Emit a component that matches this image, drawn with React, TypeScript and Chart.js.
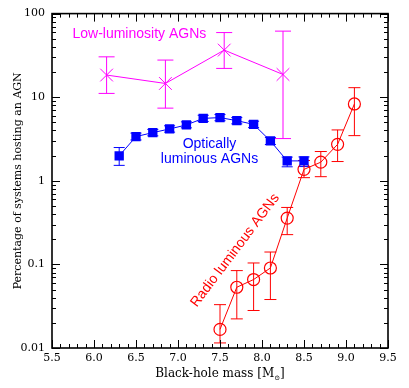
import React, { useEffect, useRef } from 'react';
import { Chart, registerables } from 'chart.js';
Chart.register(...registerables);

// Low-luminosity AGNs
const lowLumMass = [6.15, 6.85, 7.55, 8.25];
const lowLumPct = [18.4, 14.6, 36.6, 18.7];
const lowLumLo = [11.1, 7.4, 22.1, 3.2];
const lowLumHi = [30.4, 27.8, 59.3, 61.7];

// Optically luminous AGNs
const opticalMass = [6.3, 6.5, 6.7, 6.9, 7.1, 7.3, 7.5, 7.7, 7.9, 8.1, 8.3, 8.5];
const opticalPct = [1.99, 3.38, 3.77, 4.17, 4.66, 5.58, 5.7, 5.24, 4.73, 3.0, 1.73, 1.73];
const opticalLo = [1.53, 3.08, 3.45, 3.82, 4.3, 5.12, 5.23, 4.8, 4.33, 2.72, 1.47, 1.48];
const opticalHi = [2.5, 3.72, 4.12, 4.55, 5.07, 6.08, 6.2, 5.7, 5.16, 3.3, 1.92, 1.93];

// Radio luminous AGNs
const radioMass = [7.5, 7.7, 7.9, 8.1, 8.3, 8.5, 8.7, 8.9, 9.1];
const radioPct = [0.0167, 0.0533, 0.0659, 0.0906, 0.358, 1.37, 1.67, 2.73, 8.3];
const radioLo = [0.0115, 0.0223, 0.0281, 0.038, 0.227, 1.09, 1.12, 1.7, 3.47];
const radioHi = [0.033, 0.0843, 0.104, 0.1406, 0.48, 1.75, 2.24, 4.06, 13.0];

const yTickValues = [0.01, 0.1, 1, 10, 100];
const xMin = 5.5;
const xMax = 9.5;

const MAGENTA = '#ff00ff';
const BLUE = '#0000ff';
const RED = '#ff0000';
const AXIS_FONT = '"DejaVu Serif", serif';
const LABEL_FONT = '"Liberation Sans", Arial, sans-serif';

const errorSets = [
  { xs: lowLumMass, lo: lowLumLo, hi: lowLumHi, color: MAGENTA, cap: 8 },
  { xs: opticalMass, lo: opticalLo, hi: opticalHi, color: BLUE, cap: 5.5 },
  { xs: radioMass, lo: radioLo, hi: radioHi, color: RED, cap: 6 },
];

const errorBarPlugin = {
  id: 'errorBars',
  beforeDatasetsDraw(chart: any) {
    const { ctx, chartArea } = chart;
    const xs = chart.scales.x;
    const ys = chart.scales.y;
    ctx.save();
    ctx.beginPath();
    ctx.rect(chartArea.left, chartArea.top, chartArea.right - chartArea.left, chartArea.bottom - chartArea.top);
    ctx.clip();
    ctx.lineWidth = 1;
    errorSets.forEach((s) => {
      ctx.strokeStyle = s.color;
      s.xs.forEach((m, i) => {
        const px = xs.getPixelForValue(m);
        const pLo = ys.getPixelForValue(s.lo[i]);
        const pHi = ys.getPixelForValue(s.hi[i]);
        ctx.beginPath();
        ctx.moveTo(px, pLo);
        ctx.lineTo(px, pHi);
        ctx.moveTo(px - s.cap, pLo);
        ctx.lineTo(px + s.cap, pLo);
        ctx.moveTo(px - s.cap, pHi);
        ctx.lineTo(px + s.cap, pHi);
        ctx.stroke();
      });
    });
    ctx.restore();
  },
};

const framePlugin = {
  id: 'frame',
  afterDraw(chart: any) {
    const { ctx, chartArea } = chart;
    const { left, right, top, bottom } = chartArea;
    const xs = chart.scales.x;
    const ys = chart.scales.y;
    ctx.save();
    ctx.strokeStyle = '#000';
    ctx.lineWidth = 1;
    const major = 8;
    const minor = 4;
    // x ticks
    for (let k = 0; k <= Math.round((xMax - xMin) * 10); k++) {
      const v = xMin + k * 0.1;
      const px = Math.round(xs.getPixelForValue(v)) + 0.5;
      const len = k % 5 === 0 ? major : minor;
      ctx.beginPath();
      ctx.moveTo(px, bottom);
      ctx.lineTo(px, bottom - len);
      ctx.moveTo(px, top);
      ctx.lineTo(px, top + len);
      ctx.stroke();
    }
    // y ticks
    for (let d = -2; d <= 2; d++) {
      for (let m = 1; m <= 9; m++) {
        if (d === 2 && m > 1) break;
        const v = m * Math.pow(10, d);
        const py = Math.round(ys.getPixelForValue(v)) + 0.5;
        const len = m === 1 ? major : minor;
        ctx.beginPath();
        ctx.moveTo(left, py);
        ctx.lineTo(left + len, py);
        ctx.moveTo(right, py);
        ctx.lineTo(right - len, py);
        ctx.stroke();
      }
    }
    ctx.lineWidth = 1.6;
    ctx.strokeRect(left, top, right - left, bottom - top);

    // axis titles
    ctx.fillStyle = '#000';
    ctx.textBaseline = 'alphabetic';
    const t1 = 'Black-hole mass [M';
    const t2 = '\u2299';
    const t3 = ']';
    ctx.font = `12px ${AXIS_FONT}`;
    const w1 = ctx.measureText(t1).width;
    const w3 = ctx.measureText(t3).width;
    ctx.font = `7px ${AXIS_FONT}`;
    const w2 = ctx.measureText(t2).width;
    const total = w1 + w2 + w3;
    const cx = (left + right) / 2;
    const baseY = 377;
    const x0 = cx - total / 2;
    ctx.textAlign = 'left';
    ctx.font = `12px ${AXIS_FONT}`;
    ctx.fillText(t1, x0, baseY);
    ctx.font = `7px ${AXIS_FONT}`;
    ctx.fillText(t2, x0 + w1, baseY + 2.5);
    ctx.font = `12px ${AXIS_FONT}`;
    ctx.fillText(t3, x0 + w1 + w2, baseY);

    ctx.save();
    ctx.font = `11px ${AXIS_FONT}`;
    ctx.translate(18, (top + bottom) / 2);
    ctx.rotate(-Math.PI / 2);
    ctx.textAlign = 'center';
    ctx.textBaseline = 'middle';
    ctx.fillText('Percentage of systems hosting an AGN', 0, 0);
    ctx.restore();

    // in-plot labels
    ctx.font = `14px ${LABEL_FONT}`;
    ctx.textAlign = 'center';
    ctx.textBaseline = 'middle';
    ctx.fillStyle = MAGENTA;
    ctx.fillText('Low-luminosity AGNs', xs.getPixelForValue(6.54), ys.getPixelForValue(57.3));
    ctx.fillStyle = BLUE;
    ctx.fillText('Optically', xs.getPixelForValue(7.375), ys.getPixelForValue(2.71));
    ctx.fillText('luminous AGNs', xs.getPixelForValue(7.375), ys.getPixelForValue(1.8));
    ctx.fillStyle = RED;
    ctx.save();
    ctx.translate(xs.getPixelForValue(7.68), ys.getPixelForValue(0.147));
    ctx.rotate((-53 * Math.PI) / 180);
    ctx.fillText('Radio luminous AGNs', 0, 0);
    ctx.restore();
    ctx.restore();
  },
};

export default function App() {
  const ref = useRef<HTMLCanvasElement | null>(null);
  useEffect(() => {
    if (!ref.current) return;
    const toPts = (xs: number[], ys: number[]) => xs.map((x, i) => ({ x, y: ys[i] }));
    const chart = new Chart(ref.current, {
      type: 'line',
      data: {
        datasets: [
          {
            data: toPts(lowLumMass, lowLumPct),
            borderColor: MAGENTA,
            backgroundColor: MAGENTA,
            borderWidth: 1,
            pointStyle: 'crossRot',
            pointRadius: 9,
            pointBorderWidth: 1,
            pointBorderColor: MAGENTA,
          },
          {
            data: toPts(opticalMass, opticalPct),
            borderColor: BLUE,
            backgroundColor: BLUE,
            borderWidth: 1,
            pointStyle: 'rect',
            pointRadius: 6.6,
            pointBorderWidth: 0,
            pointBackgroundColor: BLUE,
          },
          {
            data: toPts(radioMass, radioPct),
            borderColor: RED,
            backgroundColor: 'rgba(0,0,0,0)',
            borderWidth: 1,
            pointStyle: 'circle',
            pointRadius: 6,
            pointBorderWidth: 1.2,
            pointBorderColor: RED,
            pointBackgroundColor: 'rgba(0,0,0,0)',
          },
        ],
      } as any,
      options: {
        animation: false,
        responsive: false,
        layout: { padding: { top: 13, right: 21, left: 0, bottom: 0 } },
        plugins: { legend: { display: false }, tooltip: { enabled: false } },
        scales: {
          x: {
            type: 'linear',
            min: xMin,
            max: xMax,
            ticks: {
              stepSize: 0.5,
              padding: 4,
              color: '#000',
              maxRotation: 0,
              autoSkip: false,
              font: { family: AXIS_FONT, size: 11 },
            },
            grid: { display: false, drawTicks: false },
            border: { display: false },
            afterFit: (s: any) => {
              s.height = 40;
            },
          },
          y: {
            type: 'logarithmic',
            min: 0.01,
            max: 100,
            afterBuildTicks: (s: any) => {
              s.ticks = yTickValues.map((v) => ({ value: v }));
            },
            ticks: {
              padding: 7,
              color: '#000',
              autoSkip: false,
              font: { family: AXIS_FONT, size: 11 },
              callback: (v: any) => String(v),
            },
            grid: { display: false, drawTicks: false },
            border: { display: false },
            afterFit: (s: any) => {
              s.width = 52;
            },
          },
        },
      } as any,
      plugins: [errorBarPlugin, framePlugin],
    });
    return () => chart.destroy();
  }, []);
  return (
    <div style={{ position: 'absolute', left: 0, top: 0, width: 409, height: 388, background: '#fff' }}>
      <canvas ref={ref} width={409} height={388} />
    </div>
  );
}
